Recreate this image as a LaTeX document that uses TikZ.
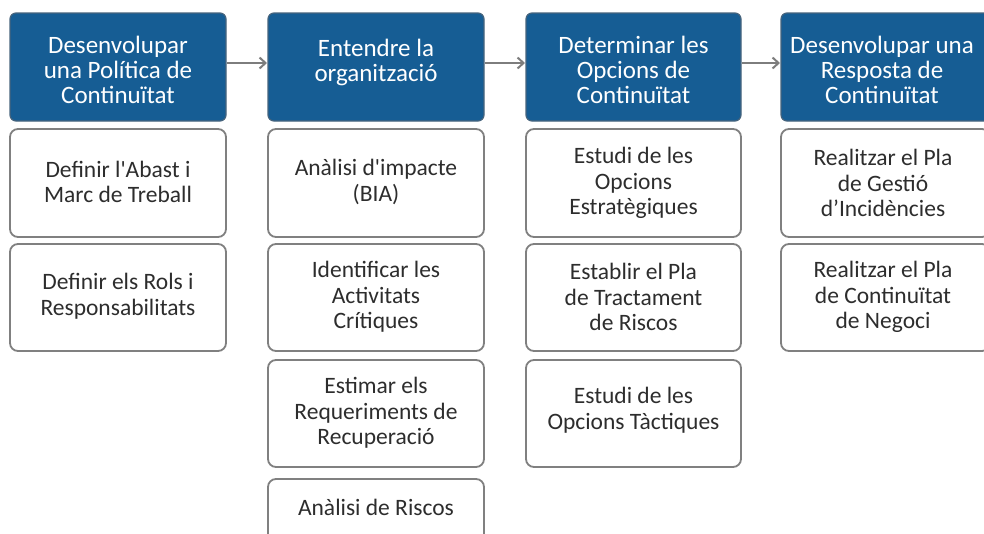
\documentclass[tikz,border=0pt]{standalone}
\usepackage{fontspec}
\setmainfont{Carlito}
\usetikzlibrary{arrows.meta}
\definecolor{hdrblue}{RGB}{22,93,148}
\definecolor{hdredge}{RGB}{70,100,125}
\definecolor{boxedge}{RGB}{128,128,128}
\definecolor{txtgray}{RGB}{45,45,45}
\definecolor{arrowgray}{RGB}{125,125,125}
\tikzset{
  hdr/.style={rounded corners=6pt, fill=hdrblue, draw=hdredge, line width=1.2pt},
  sub/.style={rounded corners=8pt, fill=white, draw=boxedge, line width=1.8pt},
  hdrtext/.style={text=white, align=center, font=\fontsize{25}{25}\selectfont},
  subtext/.style={text=txtgray, align=center, font=\fontsize{23.5}{25.5}\selectfont},
  flow/.style={draw=arrowgray, line width=2pt, -{Straight Barb[length=6pt,width=11pt,line width=2pt]}}
}
\begin{document}
\begin{tikzpicture}[x=1pt,y=-1pt]
\useasboundingbox (0,0) rectangle (984,533);
\clip (0,0) rectangle (984,533);
% headers
\draw[hdr] (10,13) rectangle (226,121);
\draw[hdr] (268,13) rectangle (484,121);
\draw[hdr] (526,13) rectangle (741,121);
\draw[hdr] (781,13) rectangle (990,121);
\node[hdrtext] (t1) at (118,70) {Desenvolupar\\una Política de\\Continuïtat};
\node[hdrtext] (t2) at (376,62) {Entendre la\\organització};
\node[hdrtext] (t3) at (633.5,70) {Determinar les\\Opcions de\\Continuïtat};
\node[hdrtext] (t4) at (882,70) {Desenvolupar una\\Resposta de\\Continuïtat};
% arrows between headers
\coordinate (a1s) at (227,63); \coordinate (a1e) at (267,63);
\coordinate (a2s) at (485,63); \coordinate (a2e) at (525,63);
\coordinate (a3s) at (742,63); \coordinate (a3e) at (780,63);
\draw[flow] (a1s) -- (a1e);
\draw[flow] (a2s) -- (a2e);
\draw[flow] (a3s) -- (a3e);
% column 1
\draw[sub] (10,129) rectangle (226,237);
\node[subtext] (c1a) at (118,182) {Definir l\textquotesingle Abast i\\Marc de Treball};
\draw[sub] (10,244) rectangle (226,351);
\node[subtext] (c1b) at (118,296) {Definir els Rols i\\Responsabilitats};
% column 2
\draw[sub] (268,129) rectangle (484,237);
\node[subtext] (c2a) at (376,182) {Anàlisi d\textquotesingle impacte\\(BIA)};
\draw[sub] (268,244) rectangle (484,351);
\node[subtext] (c2b) at (376,297) {Identificar les\\Activitats\\Crítiques};
\draw[sub] (268,360) rectangle (484,467);
\node[subtext] (c2c) at (376,413) {Estimar els\\Requeriments de\\Recuperació};
\draw[sub] (268,479) rectangle (484,590);
\node[subtext] (c2d) at (376,507) {Anàlisi de Riscos};
% column 3
\draw[sub] (526,129) rectangle (741,237);
\node[subtext] (c3a) at (633.5,183) {Estudi de les\\Opcions\\Estratègiques};
\draw[sub] (526,244) rectangle (741,351);
\node[subtext] (c3b) at (633.5,297) {Establir el Pla\\de Tractament\\de Riscos};
\draw[sub] (526,360) rectangle (741,467);
\node[subtext] (c3c) at (633.5,410) {Estudi de les\\Opcions Tàctiques};
% column 4
\draw[sub] (781,129) rectangle (990,237);
\node[subtext] (c4a) at (883,183) {Realitzar el Pla\\de Gestió\\d’Incidències};
\draw[sub] (781,244) rectangle (990,351);
\node[subtext] (c4b) at (883,297) {Realitzar el Pla\\de Continuïtat\\de Negoci};
\end{tikzpicture}
\end{document}
